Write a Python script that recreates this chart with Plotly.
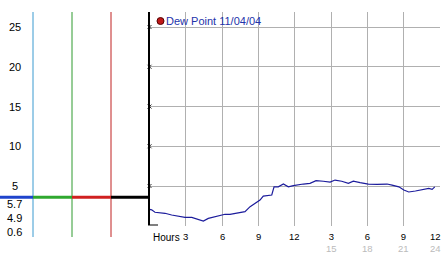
import plotly.graph_objects as go

# ---- data ----
hours = [0.0, 0.18, 0.45, 0.87, 1.28, 1.83, 2.36, 2.93, 3.49, 4.03, 4.45, 4.86, 5.41,
         6.24, 6.65, 7.07, 7.48, 7.89, 8.31, 8.72, 9.13, 9.40, 10.1, 10.29, 10.64,
         11.06, 11.47, 11.88, 12.30, 12.71, 13.26, 13.76, 14.36, 14.92, 15.33, 15.88,
         16.43, 16.84, 17.40, 18.08, 18.8, 19.63, 20.04, 20.6, 21.01, 21.42, 21.97,
         22.52, 23.07, 23.35, 23.57]
dew_point = [2.07, 2.0, 1.7, 1.65, 1.57, 1.35, 1.2, 1.05, 1.05, 0.8, 0.6, 0.93, 1.1,
             1.45, 1.44, 1.56, 1.7, 1.77, 2.4, 2.82, 3.24, 3.74, 3.87, 4.9, 4.9,
             5.25, 4.9, 5.04, 5.17, 5.25, 5.33, 5.67, 5.6, 5.5, 5.75, 5.6,
             5.33, 5.6, 5.43, 5.25, 5.2, 5.25, 5.12, 4.9, 4.5, 4.25, 4.37,
             4.58, 4.7, 4.58, 4.9]
y_ticks = [5, 10, 15, 20, 25]
x_ticks = [3, 6, 9, 12, 15, 18, 21, 24]
x_tick_labels = ["3", "6", "9", "12", "3", "6", "9", "12"]
x_tick_labels2 = {15: "15", 18: "18", 21: "21", 24: "24"}
stat_labels = ["5.7", "4.9", "0.6"]
ref_value = 3.6
legend_text = "Dew Point 11/04/04"

W, H = 442, 253
ML, MR, MT, MB = 0, 2, 12, 27
PW = W - ML - MR
PH = H - MT - MB

def px(x):
    return (x - ML) / PW

def py(y):
    return (H - MB - y) / PH

FONT = "Liberation Sans"

def txt(x, y, text, xref="paper", yref="paper", size=11, color="black", xanchor="center",
        yanchor="middle", align="center"):
    return dict(x=x, y=y, xref=xref, yref=yref, text=text, showarrow=False,
                xanchor=xanchor, yanchor=yanchor, borderpad=0, align=align,
                font=dict(family=FONT, size=size, color=color))

fig = go.Figure()
fig.add_trace(go.Scatter(x=hours, y=dew_point, mode="lines",
                         line=dict(color="#1c1c9c", width=1.2), hoverinfo="skip"))
# small tick glyphs on the left axis
fig.add_trace(go.Scatter(x=[0] * len(y_ticks), y=y_ticks, mode="markers", cliponaxis=False,
                         hoverinfo="skip",
                         marker=dict(symbol="x-thin", size=4, line=dict(color="#333", width=1))))
# small tick glyphs above the hour labels
fig.add_trace(go.Scatter(x=x_ticks, y=[-0.45] * len(x_ticks), mode="markers", cliponaxis=False,
                         hoverinfo="skip",
                         marker=dict(symbol="x-thin", size=4, line=dict(color="#333", width=1))))

shapes = []
# left axis line
shapes.append(dict(type="line", xref="paper", yref="paper", x0=px(149), x1=px(149),
                   y0=py(12), y1=py(225), line=dict(color="black", width=2)))
shapes.append(dict(type="line", xref="paper", yref="paper", x0=px(148), x1=px(158),
                   y0=py(225), y1=py(225), line=dict(color="black", width=1)))
# left panel vertical colored lines
for xx, c in [(33, "#3a9ad0"), (72, "#2f9a2f"), (111, "#c02020")]:
    shapes.append(dict(type="line", xref="paper", yref="paper", x0=px(xx), x1=px(xx),
                       y0=py(12), y1=py(237), line=dict(color=c, width=1)))
# horizontal reference line in segments
for x0, x1, c in [(0, 33, "#1f44cc"), (33, 72, "#2fa82f"), (72, 111, "#d02020"), (111, 149, "black")]:
    shapes.append(dict(type="line", xref="paper", yref="y", x0=px(x0), x1=px(x1),
                       y0=ref_value, y1=ref_value, line=dict(color=c, width=3)))
# legend dot
shapes.append(dict(type="circle", xref="paper", yref="paper", x0=px(157), x1=px(164),
                   y0=py(24.5), y1=py(17.5), fillcolor="#c01818", line=dict(color="#500", width=1)))

ann = []
for v in y_ticks:
    ann.append(txt(px(15), v, str(v), yref="y"))
for t, yy in zip(stat_labels, [204, 218, 232]):
    ann.append(txt(px(15), py(yy), t))
ann.append(txt(px(166), py(237), "Hours", size=10))
last = x_ticks[-1]
for xv, lab in zip(x_ticks, x_tick_labels):
    anchor = "right" if xv == last else "center"
    xpos = px(W) if xv == last else xv
    xr = "paper" if xv == last else "x"
    if xv in x_tick_labels2:
        text = lab + "<br><span style='color:#bbbbbb'>" + x_tick_labels2[xv] + "</span>"
    else:
        text = lab
    ann.append(txt(xpos, py(230), text, xref=xr, size=9.5, yanchor="top", xanchor=anchor,
                   align="right" if xv == last else "center"))
ann.append(txt(px(165), py(21), legend_text, color="#2233aa", xanchor="left"))

fig.update_layout(
    width=W, height=H, margin=dict(l=ML, r=MR, t=MT, b=MB),
    paper_bgcolor="white", plot_bgcolor="white", showlegend=False,
    xaxis=dict(domain=[px(149.5), 1], range=[0, 24], tickvals=x_ticks, showticklabels=False,
               showgrid=True, gridcolor="#b0b0b0", gridwidth=1, zeroline=False, ticks="",
               showline=False, fixedrange=True),
    yaxis=dict(range=[-0.03, 26.89], tickvals=y_ticks, showticklabels=False, showgrid=True,
               gridcolor="#b0b0b0", gridwidth=1, zeroline=False, ticks="", showline=False),
    shapes=shapes, annotations=ann,
)
fig.write_html("out.html")
